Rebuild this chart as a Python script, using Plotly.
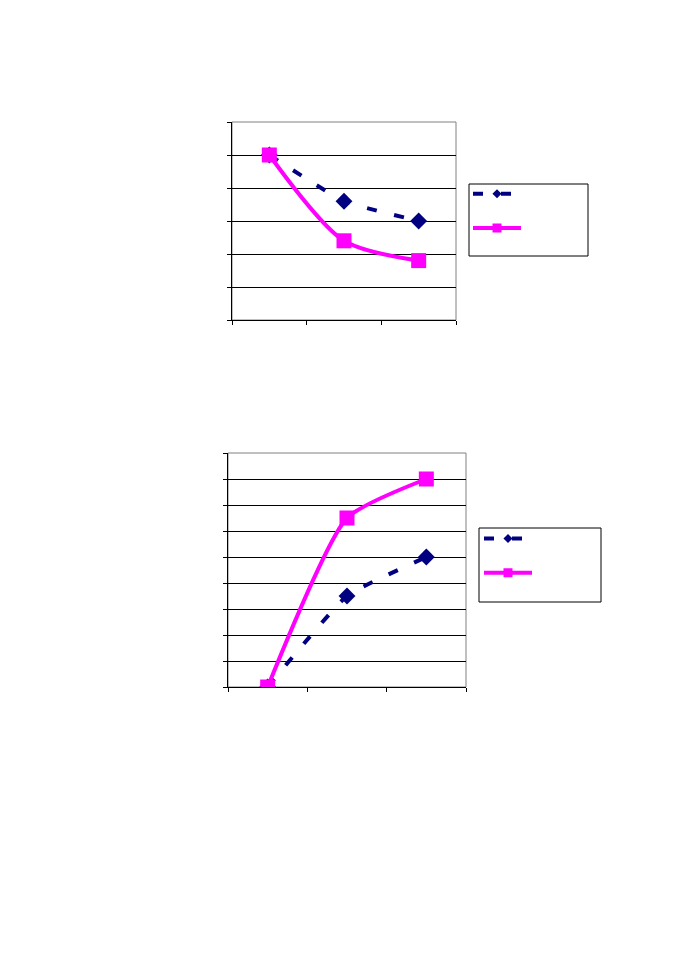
import plotly.graph_objects as go

categories = ["1", "2", "3"]
# chart 1 (top)
top_series_a = [5.0, 3.6, 3.0]   # navy dashed, diamonds
top_series_b = [5.0, 2.4, 1.8]   # magenta, squares
# chart 2 (bottom)
bot_series_a = [0.0, 3.5, 5.0]
bot_series_b = [0.0, 6.5, 8.0]

NAVY = "#000080"
MAGENTA = "#FF00FF"
OFF = 8                      # page body margin
W, H = 676 - 2 * OFF, 960 - 2 * OFF

def px(x):
    return (x - OFF) / W

def py(y):
    return 1 - (y - OFF) / H

def navy_line():
    return dict(color=NAVY, width=4, dash="10px,18px", shape="spline", smoothing=0.4)

def mag_line(sm):
    return dict(color=MAGENTA, width=4, shape="spline", smoothing=sm)

fig = go.Figure()

def add_pair(xa, ya, lg, a, b, sm):
    fig.add_trace(go.Scatter(
        x=categories, y=a, xaxis=xa, yaxis=ya, showlegend=False,
        mode="lines+markers", line=navy_line(),
        marker=dict(symbol="diamond", size=13, color=NAVY),
    ))
    fig.add_trace(go.Scatter(
        x=categories, y=b, xaxis=xa, yaxis=ya, showlegend=False,
        mode="lines+markers", line=mag_line(sm),
        marker=dict(symbol="square", size=15, color=MAGENTA),
    ))
    # legend entries (smaller legend markers, as in the original)
    fig.add_trace(go.Scatter(
        x=[None], y=[None], xaxis=xa, yaxis=ya, legend=lg, name=" <br> ",
        mode="lines+markers", line=navy_line(),
        marker=dict(symbol="diamond", size=7, color=NAVY),
    ))
    fig.add_trace(go.Scatter(
        x=[None], y=[None], xaxis=xa, yaxis=ya, legend=lg, name=" <br> ",
        mode="lines+markers", line=mag_line(sm),
        marker=dict(symbol="square", size=9, color=MAGENTA),
    ))

add_pair("x", "y", "legend", top_series_a, top_series_b, 0.8)
add_pair("x2", "y2", "legend2", bot_series_a, bot_series_b, 0.55)

def xax(x0, x1, anchor):
    return dict(domain=[px(x0), px(x1)], anchor=anchor, type="category",
                categoryorder="array", categoryarray=categories, range=[-0.5, 2.5],
                showticklabels=False, ticks="outside", ticklen=4, tickcolor="black",
                tickson="boundaries", showline=True, linecolor="black", linewidth=1,
                showgrid=False, zeroline=False, fixedrange=True)

def yax(y0, y1, anchor, top):
    return dict(domain=[py(y1), py(y0)], anchor=anchor, range=[0, top], tickmode="array",
                tickvals=list(range(0, top + 1)), showticklabels=False,
                ticks="outside", ticklen=4, tickcolor="black",
                showline=True, linecolor="black", linewidth=1,
                showgrid=False, zeroline=False,
                minor=dict(tickvals=list(range(1, top)), showgrid=True,
                           gridcolor="black", gridwidth=1, ticks=""),
                fixedrange=True)

def legend_at(x_line_start, y_first_symbol):
    return dict(x=px(x_line_start - 5), y=py(y_first_symbol - 13.5),
                xanchor="left", yanchor="top", borderwidth=0,
                bgcolor="rgba(0,0,0,0)", itemwidth=48, valign="top",
                itemsizing="trace",
                font=dict(size=12, family="Liberation Sans"), tracegroupgap=0)

def frame(xref, yref):
    return dict(type="rect", xref=xref, yref=yref, x0=0, x1=1, y0=0, y1=1,
                line=dict(color="#808080", width=1), layer="below")

def legend_box(x0, y0, x1, y1):
    return dict(type="rect", xref="paper", yref="paper",
                x0=px(x0), x1=px(x1), y0=py(y1), y1=py(y0),
                line=dict(color="black", width=1), fillcolor="white", layer="below")

fig.update_layout(
    width=W, height=H,
    margin=dict(l=0, r=0, t=0, b=0),
    paper_bgcolor="white", plot_bgcolor="white",
    xaxis=xax(232, 456, "y"),
    yaxis=yax(122, 320, "x", 6),
    xaxis2=xax(228, 466, "y2"),
    yaxis2=yax(453, 687, "x2", 9),
    legend=legend_at(473, 193),
    legend2=legend_at(484, 537.7),
    shapes=[
        frame("x domain", "y domain"),
        frame("x2 domain", "y2 domain"),
        legend_box(469, 184, 588, 256),
        legend_box(479, 528, 601, 602),
    ],
)

fig.write_html("out.html", config={"displayModeBar": False})
